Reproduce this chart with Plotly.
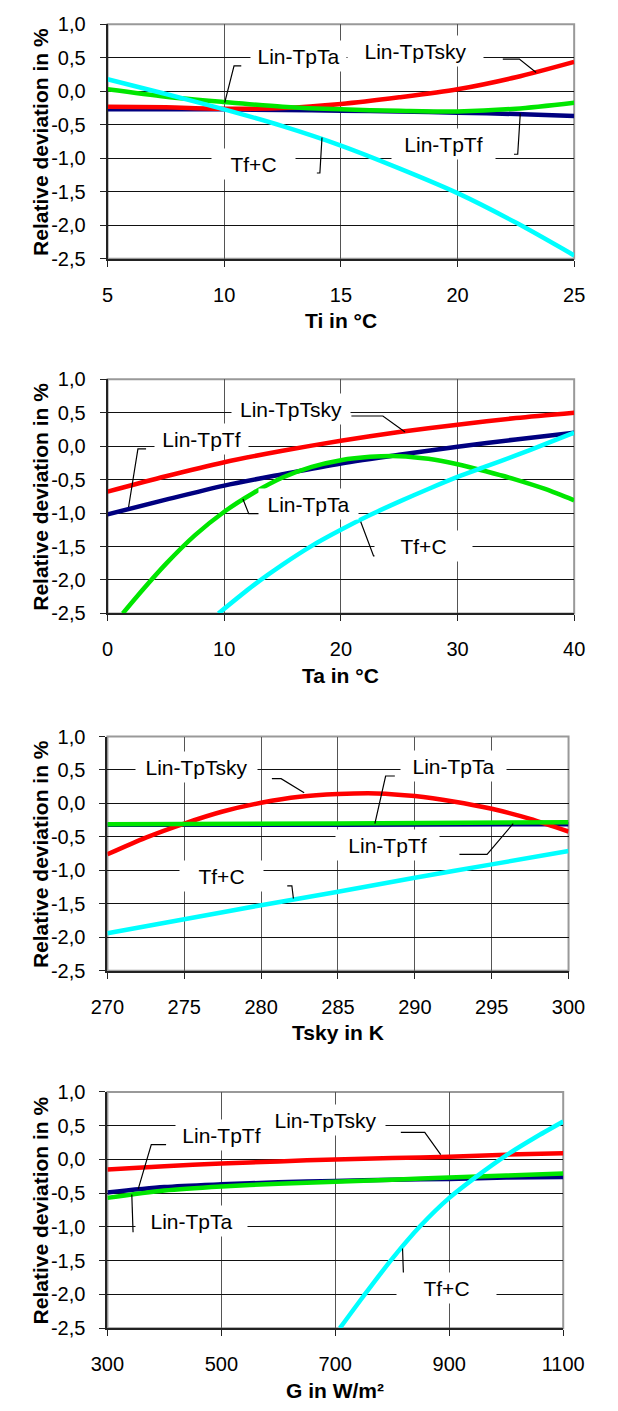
import plotly.graph_objects as go

# ---------------- data ----------------
y_ticks = [1.0, 0.5, 0.0, -0.5, -1.0, -1.5, -2.0, -2.5]
y_ticktext = ["1,0", "0,5", "0,0", "-0,5", "-1,0", "-1,5", "-2,0", "-2,5"]

# Panel 1: Ti
ti = [5, 7.5, 10, 12.5, 15, 17.5, 20, 22.5, 25]
ti_tf = [-0.27, -0.27, -0.27, -0.28, -0.29, -0.30, -0.32, -0.34, -0.37]
ti_tsky = [-0.23, -0.24, -0.26, -0.25, -0.19, -0.09, 0.03, 0.21, 0.44]
ti_ta = [0.03, -0.08, -0.16, -0.23, -0.27, -0.29, -0.30, -0.26, -0.17]
ti_tfc = [0.18, -0.04, -0.27, -0.52, -0.81, -1.15, -1.52, -1.96, -2.45]
ti_ticks = [5, 10, 15, 20, 25]

# Panel 2: Ta
ta = [0, 5, 10, 15, 20, 25, 30, 35, 40]
ta_tsky = [-0.68, -0.45, -0.24, -0.07, 0.08, 0.21, 0.32, 0.42, 0.50]
ta_tf = [-1.02, -0.80, -0.59, -0.42, -0.26, -0.13, -0.01, 0.10, 0.20]
ta_ta_x = [1.3, 2.5, 5, 7.5, 10, 12.5, 15, 17.5, 20, 22.5, 25, 27.5, 30, 32.5, 35, 37.5, 40]
ta_ta = [-2.5, -2.25, -1.76, -1.33, -0.98, -0.70, -0.47, -0.31, -0.21, -0.16, -0.15, -0.19,
         -0.27, -0.38, -0.50, -0.64, -0.81]
ta_tfc_x = [9.5, 12.5, 15, 17.5, 20, 22.5, 25, 27.5, 30, 32.5, 35, 37.5, 40]
ta_tfc = [-2.5, -2.08, -1.77, -1.49, -1.25, -1.03, -0.83, -0.64, -0.46, -0.30, -0.14, 0.03, 0.20]
ta_ticks = [0, 10, 20, 30, 40]

# Panel 3: Tsky
tsky = [270, 272.5, 275, 277.5, 280, 282.5, 285, 287.5, 290, 292.5, 295, 297.5, 300]
ts_tsky = [-0.76, -0.51, -0.30, -0.12, 0.01, 0.10, 0.14, 0.15, 0.11, 0.03, -0.08, -0.23, -0.42]
ts_flat_x = [270, 285, 300]
ts_tf = [-0.32, -0.32, -0.31]
ts_ta = [-0.31, -0.30, -0.28]
ts_tfc_x = [270, 275, 280, 285, 290, 295, 300]
ts_tfc = [-1.94, -1.73, -1.52, -1.32, -1.11, -0.91, -0.71]
ts_ticks = [270, 275, 280, 285, 290, 295, 300]

# Panel 4: G
g = [300, 400, 500, 600, 700, 800, 900, 1000, 1100]
g_tsky = [-0.15, -0.10, -0.06, -0.03, 0.00, 0.02, 0.04, 0.07, 0.09]
g_tf = [-0.49, -0.41, -0.37, -0.34, -0.32, -0.30, -0.29, -0.27, -0.26]
g_ta = [-0.57, -0.46, -0.40, -0.36, -0.33, -0.30, -0.27, -0.24, -0.21]
g_tfc_x = [708, 750, 800, 850, 900, 950, 1000, 1050, 1100]
g_tfc = [-2.5, -2.02, -1.47, -0.98, -0.57, -0.24, 0.06, 0.32, 0.56]
g_ticks = [300, 500, 700, 900, 1100]

x_titles = ["Ti in °C", "Ta in °C", "Tsky in K", "G in W/m²"]
y_title = "Relative deviation in %"

# ---------------- styling / layout ----------------
W, H = 618, 1411
FONT = "Liberation Sans, Arial, sans-serif"
C_TF, C_TSKY, C_TA, C_TFC = "#000080", "#FF0000", "#00E600", "#00FFFF"
LW = 4.5

# pixel boxes of plot areas: (left, right, top, bottom)
boxes = [(96.7, 594.7, 13.5, 251.7),
         (96.7, 594.7, 374.0, 612.0),
         (96.5, 588.7, 737.0, 975.0),
         (96.5, 583.0, 1098.0, 1338.0)]

panels = [
    dict(ranges=(5, 25), ticks=ti_ticks,
         series=[(ti, ti_tf, C_TF), (ti, ti_tsky, C_TSKY), (ti, ti_ta, C_TA), (ti, ti_tfc, C_TFC)],
         labels=[("Lin-TpTa", 13.2, 0.52, 95), ("Lin-TpTsky", 18.2, 0.60, 135),
                 ("Lin-TpTf", 19.4, -0.79, 103), ("Tf+C", 11.25, -1.08, 83)],
         leaders=[([10.73, 10.42, 10.02], [0.38, 0.38, -0.17]),
                  ([21.94, 22.65, 23.37], [0.48, 0.48, 0.28]),
                  ([22.42, 22.58, 22.69], [-0.94, -0.94, -0.33]),
                  ([13.97, 14.10, 14.19], [-1.22, -1.22, -0.69])]),
    dict(ranges=(0, 40), ticks=ta_ticks,
         series=[(ta, ta_tf, C_TF), (ta, ta_tsky, C_TSKY), (ta_ta_x, ta_ta, C_TA), (ta_tfc_x, ta_tfc, C_TFC)],
         labels=[("Lin-TpTsky", 15.75, 0.56, 118), ("Lin-TpTf", 8.05, 0.10, 93),
                 ("Lin-TpTa", 17.2, -0.87, 99), ("Tf+C", 27.1, -1.49, 97)],
         leaders=[([20.9, 23.6, 25.5], [0.45, 0.45, 0.21]),
                  ([3.3, 2.6, 1.8], [-0.04, -0.04, -0.91]),
                  ([13.4, 12.1, 11.6], [-1.01, -1.01, -0.79]),
                  ([23.7, 22.8, 21.7], [-1.64, -1.64, -1.13])]),
    dict(ranges=(270, 300), ticks=ts_ticks,
         series=[(ts_flat_x, ts_tf, C_TF), (tsky, ts_tsky, C_TSKY), (ts_flat_x, ts_ta, C_TA), (ts_tfc_x, ts_tfc, C_TFC)],
         labels=[("Lin-TpTsky", 275.8, 0.55, 121), ("Lin-TpTa", 292.5, 0.56, 105),
                 ("Lin-TpTf", 288.2, -0.62, 103), ("Tf+C", 277.4, -1.08, 83)],
         leaders=[([280.7, 281.3, 282.8], [0.37, 0.37, 0.16]),
                  ([288.7, 288.1, 287.4], [0.41, 0.41, -0.30]),
                  ([292.9, 294.7, 296.4], [-0.76, -0.76, -0.30]),
                  ([281.7, 282.0, 282.1], [-1.23, -1.23, -1.42])]),
    dict(ranges=(300, 1100), ticks=g_ticks,
         series=[(g, g_tf, C_TF), (g, g_tsky, C_TSKY), (g, g_ta, C_TA), (g_tfc_x, g_tfc, C_TFC)],
         labels=[("Lin-TpTsky", 682, 0.59, 119), ("Lin-TpTf", 500, 0.36, 91),
                 ("Lin-TpTa", 448, -0.91, 111), ("Tf+C", 896, -1.90, 99)],
         leaders=[([815, 857, 885], [0.40, 0.40, 0.07]),
                  ([403, 377, 354], [0.22, 0.22, -0.44]),
                  ([342.8, 345], [-0.52, -1.08]),
                  ([824, 821, 818], [-2.05, -2.05, -1.32])]),
]

fig = go.Figure()
annotations = []
shapes = []
layout_axes = {}

for i, p in enumerate(panels):
    n = "" if i == 0 else str(i + 1)
    xa, ya = "x" + n, "y" + n
    l, r, t, b = boxes[i]
    xdom = [l / W, r / W]
    ydom = [1 - b / H, 1 - t / H]

    for xs, ys, col in p["series"]:
        fig.add_trace(go.Scatter(x=xs, y=ys, mode="lines", line=dict(color=col, width=LW, shape="spline", smoothing=0.8),
                                 xaxis=xa, yaxis=ya, showlegend=False, hoverinfo="skip"))
    for lx, ly in p["leaders"]:
        fig.add_trace(go.Scatter(x=lx, y=ly, mode="lines", line=dict(color="black", width=1.2),
                                 xaxis=xa, yaxis=ya, showlegend=False, hoverinfo="skip"))
    for txt, x, y, w in p["labels"]:
        annotations.append(dict(text=txt, x=x, y=y, xref=xa, yref=ya, showarrow=False,
                                bgcolor="white", width=w, height=30, borderpad=0,
                                font=dict(family=FONT, size=21, color="black")))

    layout_axes["xaxis" + n] = dict(
        domain=xdom, anchor=ya, range=list(p["ranges"]), tickvals=p["ticks"],
        ticktext=[str(v) for v in p["ticks"]],
        showgrid=True, gridcolor="#555555", gridwidth=1,
        showline=True, linecolor="#222222", linewidth=2,
        ticks="outside", ticklen=6, tickcolor="#222222", ticklabelstandoff=11,
        tickfont=dict(family=FONT, size=20, color="black"), zeroline=False, fixedrange=True)
    layout_axes["yaxis" + n] = dict(
        domain=ydom, anchor=xa, range=[-2.5, 1.0], tickvals=y_ticks, ticktext=y_ticktext,
        showgrid=True, gridcolor="#111111", gridwidth=1,
        showline=True, linecolor="#222222", linewidth=2,
        ticks="outside", ticklen=6, tickcolor="#222222", ticklabelstandoff=10,
        tickfont=dict(family=FONT, size=20, color="black"), zeroline=False, fixedrange=True)

    # gray top/right frame
    shapes.append(dict(type="rect", xref=xa + " domain", yref=ya + " domain", x0=0, x1=1, y0=0, y1=1,
                       line=dict(color="#999999", width=2), layer="below"))

    # axis titles
    annotations.append(dict(text="<b>" + x_titles[i] + "</b>", xref="paper", yref="paper",
                            x=(l + r) / 2 / W, y=1 - (b + 63) / H, xanchor="center", yanchor="middle",
                            showarrow=False, font=dict(family=FONT, size=21, color="black")))
    annotations.append(dict(text="<b>" + y_title + "</b>", xref="paper", yref="paper",
                            x=25 / W, y=1 - (t + b) / 2 / H, xanchor="center", yanchor="middle",
                            textangle=-90, showarrow=False, font=dict(family=FONT, size=21, color="black")))

fig.update_layout(width=W, height=H, margin=dict(l=0, r=0, t=0, b=0),
                  paper_bgcolor="white", plot_bgcolor="white",
                  annotations=annotations, shapes=shapes, showlegend=False,
                  font=dict(family=FONT, size=20, color="black"), **layout_axes)

fig.write_html("out.html", config={"displayModeBar": False, "staticPlot": True},
               post_script="document.body.style.margin='0';document.body.style.overflow='hidden';")
